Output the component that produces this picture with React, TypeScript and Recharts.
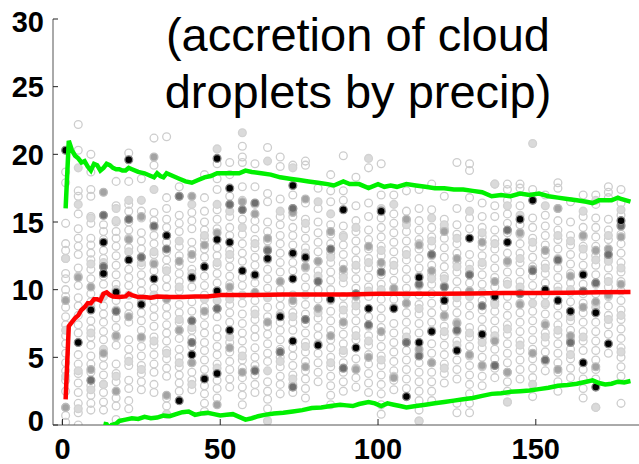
import React from "react";
import { ComposedChart, Scatter, Line, XAxis, YAxis } from "recharts";

// sample columns along x
const COLS = [
  1, 5, 9, 13, 17, 21, 25, 29, 33, 37, 41, 45, 49, 53, 57, 61, 65, 69, 73, 77, 81, 85, 89,
  93, 97, 101, 105, 109, 113, 117, 121, 125, 129, 133, 137, 141, 145, 149, 153, 157, 161,
  165, 169, 173, 177,
];

// open light-gray circles, one string per column
const OPEN = [
  "0.2 0.7 1.3 2.5 3.3 4.0 4.6 5.3 6.0 6.6 7.4 8.0 8.7 9.5 10.0 10.8 11.2 12.3 12.9 13.4 14.9 17.9 18.7",
  "0.0 0.9 1.6 2.4 3.1 3.8 4.5 5.2 6.8 7.4 8.1 8.8 9.4 10.3 11.0 11.6 12.6 13.2 13.8 14.5 15.6 16.9 17.3 20.3 22.2",
  "1.1 1.6 2.2 2.9 3.9 4.5 5.1 5.9 6.5 7.1 7.7 9.1 9.7 10.8 11.5 12.2 12.7 13.3 13.8 14.9 15.4 16.9 17.4 18.7 20.0",
  "1.1 1.7 2.4 3.0 3.7 4.4 5.0 6.3 6.9 7.6 8.2 8.8 10.4 11.0 11.7 12.3 12.9 13.7 14.3 14.8",
  "0.4 1.4 2.0 3.2 3.8 4.5 5.9 6.5 7.2 7.9 8.5 9.2 10.4 11.1 11.8 12.5 13.2 13.8 14.3 15.0 16.2 18.0",
  "1.2 1.8 2.7 3.3 4.4 5.0 5.6 6.3 7.6 8.2 8.8 10.3 10.9 11.5 13.1 13.8 14.4 15.0 15.8 16.3 18.0 20.1",
  "2.6 3.2 3.8 4.4 5.1 5.8 6.4 7.0 7.7 8.3 9.9 10.5 11.1 11.8 12.4 13.0 13.6 14.2 15.3 15.8 18.2",
  "2.4 3.0 3.9 4.5 5.2 5.9 6.5 7.3 8.0 8.6 9.2 10.1 11.4 12.0 12.6 13.4 14.0 14.6 15.1 15.7 19.2 21.2",
  "0.8 1.4 2.0 3.6 4.2 4.9 5.5 6.2 6.8 7.4 8.1 8.7 10.2 10.8 11.6 12.2 12.8 13.5 14.6 15.2 16.0 16.8 21.3",
  "2.5 3.1 3.7 4.3 5.0 5.6 6.4 7.0 7.6 8.3 8.9 9.9 10.6 11.2 11.8 12.5 13.2 14.3 14.9 15.5 16.9 17.6",
  "2.6 3.3 3.9 4.6 5.8 6.4 7.0 7.7 8.4 9.1 10.2 10.8 11.5 12.3 12.9 13.5 14.5 15.1 15.7",
  "1.0 1.6 2.3 2.9 4.1 4.8 5.5 6.1 6.8 7.4 8.1 8.7 9.6 10.3 11.0 12.4 13.0 13.7 14.4 15.0 15.8 16.8 18.5",
  "2.0 2.7 3.3 4.5 5.2 5.8 6.5 7.1 8.0 8.6 10.5 11.2 11.8 12.5 13.1 14.5 15.2 15.9 17.4 18.2 19.3",
  "2.8 3.4 4.1 4.7 5.4 6.1 7.6 8.3 8.9 9.6 10.4 11.0 11.7 12.3 12.9 14.0 14.6 15.4 16.9 18.5 19.4",
  "1.5 2.2 2.8 3.5 4.2 4.8 5.5 6.2 6.8 7.5 8.2 9.0 10.3 10.9 12.1 12.7 13.4 14.1 15.2 16.6 17.6 19.4 19.8 20.6",
  "2.4 3.0 3.7 4.4 5.0 5.7 6.5 7.1 7.8 8.5 9.2 10.5 11.8 12.4 13.1 13.7 14.5 15.1 16.3 17.6 19.3",
  "0.3 1.2 1.9 2.5 3.2 4.7 5.3 6.0 6.7 7.3 8.0 8.7 10.1 10.8 11.5 13.0 13.6 14.3 15.0 16.5 17.1 20.5",
  "2.3 3.0 3.6 4.3 5.0 5.6 6.3 7.0 7.6 8.8 9.4 10.0 11.3 12.0 12.7 13.4 14.0 14.8 15.4 16.7 19.1 19.8",
  "2.4 3.0 3.7 4.4 5.1 5.7 7.0 7.6 8.3 9.0 9.6 11.4 12.0 13.3 14.0 14.6 15.4 16.0 17.0 19.2",
  "2.0 2.7 3.4 4.0 4.7 5.4 6.1 6.8 7.5 8.2 8.9 10.2 10.9 11.6 12.3 13.1 13.8 14.5 15.2 16.4 19.2 19.5",
  "3.2 3.9 4.6 5.3 6.6 7.2 7.9 8.6 9.3 10.0 10.7 11.4 12.1 12.8 13.5 14.2 15.0 16.0 17.5",
  "1.5 2.2 2.9 3.6 4.3 5.0 5.7 6.3 7.0 7.7 8.4 10.0 10.7 11.3 12.0 12.7 13.4 14.1 14.8 16.5 17.3 18.5",
  "2.5 3.2 3.9 4.6 5.3 6.0 6.7 7.4 8.1 8.8 9.5 10.5 11.2 11.9 12.6 13.3 14.0 14.7 16.6 17.3 19.9",
  "2.8 3.5 4.2 4.9 6.3 7.0 7.7 8.4 9.1 10.1 10.8 11.5 12.2 12.9 13.6 14.3 15.1 16.2 18.3",
  "2.4 3.1 3.8 4.5 5.2 5.9 6.6 7.3 8.0 9.5 10.2 10.9 11.6 12.3 13.0 13.7 14.4 15.4 16.4 19.0",
  "0.8 1.5 2.3 3.0 3.7 4.4 5.1 5.8 6.5 7.2 7.9 8.6 9.3 10.4 11.1 11.8 12.5 13.2 13.9 14.6 15.3 17.0 19.3",
  "2.6 3.3 4.0 4.7 5.4 6.1 6.8 7.5 9.3 10.0 10.7 11.4 12.1 12.8 13.5 14.2 14.9 15.6 17.0",
  "2.7 3.4 4.1 4.8 5.5 6.2 6.9 7.6 8.3 9.0 10.1 10.8 11.5 12.2 12.9 13.6 14.3 15.1 15.8 17.3",
  "0.3 1.1 1.8 2.5 3.2 3.9 4.6 5.3 6.8 7.5 8.2 8.9 9.6 10.3 11.6 12.3 13.0 13.7 14.4 15.1 16.0 17.4",
  "1.8 2.5 3.2 3.9 4.6 5.3 6.0 7.6 8.3 9.0 9.7 10.4 11.1 11.8 12.5 13.2 13.9 14.6 15.9 17.8",
  "3.1 3.8 4.5 5.2 5.9 6.6 7.3 8.0 8.7 9.4 10.3 11.0 11.7 12.4 13.1 13.8 14.5 15.2 16.9",
  "0.9 1.6 3.4 4.1 4.8 5.5 6.2 6.9 7.6 8.3 9.0 9.9 10.6 11.3 12.0 12.7 13.4 14.1 14.8 16.0 19.4",
  "0.9 1.6 2.3 3.0 3.7 4.4 5.1 5.8 6.5 7.2 8.1 8.8 10.5 11.2 11.9 12.6 14.5 15.3 16.8 18.8 19.3",
  "2.9 3.6 4.3 5.0 5.7 6.4 7.1 7.8 8.5 9.2 10.4 11.1 11.8 12.5 13.2 13.9 14.6 15.4 16.4",
  "3.5 4.2 4.9 5.6 6.3 7.0 7.7 8.4 9.1 10.2 10.9 11.6 12.3 13.0 13.7 14.4 15.4 16.2 17.8",
  "1.7 2.5 3.2 3.9 4.6 5.3 6.0 6.7 7.4 8.1 8.8 9.5 10.6 11.3 12.0 12.7 14.2 14.9 15.6 16.6 17.4 17.8",
  "3.4 4.1 4.8 5.5 6.2 6.9 7.6 8.3 9.0 9.9 10.6 11.3 12.0 12.7 13.4 14.1 14.8 16.2 17.5 17.8",
  "2.1 3.5 4.2 4.9 5.6 6.3 7.0 7.7 8.4 9.6 10.3 11.0 11.7 12.4 13.1 13.8 14.6 15.3 17.4",
  "4.0 4.7 5.4 6.1 6.8 7.5 8.2 8.9 9.6 10.5 11.2 11.9 12.6 13.3 14.0 14.7 15.5 17.0",
  "2.5 3.2 3.9 4.6 5.3 6.0 6.7 7.4 8.1 8.8 10.2 10.9 11.6 12.3 13.0 13.7 14.4 15.1 16.0 17.5 17.9",
  "3.5 4.2 4.9 5.6 6.3 7.0 7.7 8.4 9.1 9.8 10.5 11.2 11.9 12.6 13.3 14.0 15.0 16.5",
  "2.0 2.7 3.4 4.1 5.5 6.2 6.9 7.6 8.3 9.0 9.7 10.4 11.8 12.5 13.2 13.9 14.6 15.4 17.0",
  "1.3 3.4 4.1 4.8 5.5 6.2 6.9 7.6 8.3 9.0 9.7 10.4 11.1 11.8 12.5 13.2 13.9 14.6 15.3 16.3 17.0",
  "5.3 6.0 6.7 7.4 8.1 8.8 9.5 10.2 10.9 11.6 12.3 13.0 13.7 14.4 15.2 16.8 17.2 17.6",
  "1.6 3.6 4.3 5.0 5.7 6.4 7.1 7.8 8.5 9.2 9.9 10.6 11.3 12.0 12.7 13.4 14.1 14.8 15.5 16.4 17.4",
];

// filled light-gray circles
const LIGHT = [
  "12.3 3.6 7.0", "19.0 16.3 4.0 1.2", "15.3 8.8 2.6 6.8 11.9", "9.5 5.6 3.0 12.0", "16.0 15.1 6.6 3.6 10.0",
  "16.6 9.6 4.7 12.8", "16.6 9.2 4.1 12.0", "17.4 12.8 6.2 9.6", "11.4 5.3 0.8 14.0", "13.6 7.8 4.6 10.2",
  "16.3 11.2 7.2 3.0", "14.0 9.3 3.5 11.7", "20.4 16.3 12.0 4.2 9.2", "15.8 12.6 6.5 9.3", "21.6 14.6 9.6 5.1",
  "13.4 8.2 4.1 11.0", "19.5 12.2 9.4 0.3 4.0", "15.8 10.6 4.7 8.2", "19.0 12.6 8.0 3.4", "14.9 9.6 5.8 12.7",
  "16.5 11.0 6.0 8.3", "15.6 9.2 4.6 12.4", "13.9 8.5 5.5 10.9", "14.6 11.8 6.6 8.8", "19.7 12.0 6.2 9.9",
  "16.0 10.0 4.8 12.9", "16.3 11.8 8.7 3.6", "14.8 9.6 6.5 12.6", "13.4 8.6 0.3 11.0", "15.3 10.8 7.0 13.6",
  "14.8 10.8 6.9 4.2", "13.8 9.4 5.9 11.7", "15.8 11.5 6.8 9.5", "14.2 9.8 6.1 12.0", "17.8 13.4 8.9 6.6",
  "16.2 10.4 7.1 1.7", "15.5 10.2 5.9 12.3", "20.8 13.5 9.0 3.0", "16.2 11.6 6.5 9.0", "14.0 9.9 7.0 12.1",
  "13.6 10.0 5.2 8.0", "15.8 11.2 6.5 13.0", "16.6 12.2 8.7 1.3", "14.0 10.6 7.8 12.1", "15.9 11.6 8.1 5.4",
];

// mid-gray filled
const GRAY = [
  "9.2 1.3", "10.9", "10.2 4.1", "17.2 5.3", "6.6 2.5", "13.7 8.0", "15.4 6.5", "19.8 11.9",
  "9.3 2.2", "12.1 7.0", "16.9 12.6 4.6", "13.3 8.4", "14.2 8.6 1.5", "10.2 5.7", "16.5 3.9",
  "15.6 9.8", "13.8 7.6", "10.6 5.4", "15.7 9.2", "16.7 11.7 4.3", "12.1 8.6", "14.3 6.6",
  "11.5 7.6", "9.5 4.1", "13.2 5.0", "12.0 6.9", "10.1 3.5", "15.2 9.0", "13.3 5.6",
  "11.4 4.6", "14.3 8.1", "12.3 7.5", "9.9 5.2", "13.5 4.4", "10.6 6.2", "12.1 3.9",
  "14.2 8.9", "11.5 5.3", "12.9 7.4", "16.0 4.1", "11.0 6.6", "14.0 8.7", "12.9 9.1 4.3",
  "13.0 9.6", "13.9 10.4",
];

// dark-gray filled
const DARK = [
  "", "", "3.3", "15.5 11.7", "8.4", "15.2", "12.4", "14.7", "13.0", "16.9", "7.7 6.1", "",
  "8.6", "16.3", "15.9", "16.4 4.0", "12.9", "5.4", "16.0 2.8", "7.8", "10.6", "13.0", "4.2",
  "9.7", "7.4", "11.3", "", "6.1", "10.4 5.1", "12.6", "10.2", "7.0", "11.1", "8.8", "4.4",
  "14.4", "9.7", "11.4", "4.8", "12.2", "6.1", "9.9", "10.5", "12.6", "14.7",
];

// black dots
const BLACK = [
  "20.3", "6.1", "8.5", "13.5 11.2", "9.8", "19.6 12.2", "8.9", "10.8", "14.0", "1.8",
  "10.9 5.2", "11.7 3.4", "19.7 13.7 9.9 3.8", "17.5 13.5 7.0", "11.4", "11.1", "12.3", "8.0",
  "17.7 12.7 10.8 6.2", "12.4", "5.9", "9.3", "15.9", "5.7", "8.6", "15.8", "8.6", "2.1",
  "10.9 6.1", "6.9", "9.2", "5.5", "13.8", "6.7", "9.5", "13.5", "15.2", "16.6", "10.0",
  "9.2", "8.4", "11.1 4.6", "8.3 2.8", "6.0", "15.1",
];

// running mean (red) and spread bounds (green)
const MEAN: [number, number][] = [
  [1, 1.9], [2, 7.3], [3, 7.6], [4, 7.9], [5, 8.1], [6, 8.5], [7, 8.7], [8, 9.0], [9, 9.0],
  [10, 9.3], [11, 9.3], [12, 9.2], [13, 9.7], [14, 9.8], [15, 9.6], [16, 9.5], [18, 9.45],
  [20, 9.5], [21, 9.7], [22, 9.6], [24, 9.45], [26, 9.45], [28, 9.4], [30, 9.5], [34, 9.45],
  [38, 9.45], [42, 9.5], [46, 9.5], [50, 9.6], [55, 9.6], [60, 9.6], [70, 9.65], [80, 9.65],
  [90, 9.65], [100, 9.7], [110, 9.7], [120, 9.7], [130, 9.72], [140, 9.75], [150, 9.75],
  [160, 9.78], [170, 9.8], [180, 9.82],
];

const UPPER: [number, number][] = [
  [1, 16.0], [2, 21.0], [3, 20.3], [4, 19.9], [5, 19.7], [6, 19.4], [7, 19.5], [8, 19.1],
  [9, 18.8], [10, 19.3], [11, 19.2], [12, 18.8], [13, 19.0], [14, 19.3], [15, 19.2], [16, 19.0],
  [17, 18.9], [18, 18.9], [19, 18.8], [20, 18.8], [21, 19.0], [22, 18.9], [24, 18.7], [26, 18.6],
  [28, 18.4], [29, 18.3], [30, 18.6], [31, 18.4], [32, 18.3], [33, 18.6], [35, 18.4], [37, 18.2],
  [39, 18.0], [41, 17.9], [43, 18.1], [45, 18.3], [47, 18.4], [49, 18.6], [51, 18.6], [54, 18.6],
  [56, 18.6], [58, 18.8], [60, 18.7], [63, 18.6], [66, 18.5], [69, 18.3], [72, 18.2], [75, 18.1],
  [78, 18.0], [81, 17.9], [84, 17.8], [86, 17.7], [89, 18.0], [91, 17.8], [94, 17.8], [97, 17.5],
  [100, 17.8], [102, 17.6], [104, 17.7], [106, 17.6], [109, 17.8], [112, 17.7], [115, 17.6],
  [118, 17.5], [121, 17.5], [124, 17.4], [127, 17.4], [130, 17.3], [133, 17.2], [136, 16.9],
  [139, 17.0], [142, 16.9], [145, 17.1], [148, 17.0], [151, 17.1], [154, 16.9], [157, 16.8],
  [160, 16.7], [163, 16.6], [166, 16.5], [168, 16.4], [170, 16.6], [172, 16.6], [174, 16.6],
  [176, 16.8], [177, 16.7], [180, 16.5],
];

const LOWER: [number, number][] = [
  [13, 0.1], [14, 0.05], [14.8, -0.3], [15.6, 0.0], [17, 0.1], [18, 0.3], [20, 0.4], [22, 0.5],
  [24, 0.45], [26, 0.6], [28, 0.5], [30, 0.55], [32, 0.7], [34, 0.65], [36, 0.8], [38, 0.95],
  [40, 1.0], [42, 0.75], [44, 0.85], [46, 0.9], [48, 0.8], [50, 0.7], [52, 0.75], [54, 0.8],
  [56, 0.6], [58, 0.4], [60, 0.5], [62, 0.65], [64, 0.75], [67, 0.85], [70, 0.9], [73, 1.0],
  [76, 1.1], [79, 1.25], [82, 1.3], [85, 1.4], [88, 1.5], [90, 1.45], [92, 1.4], [94, 1.55],
  [97, 1.7], [99, 1.6], [101, 1.4], [103, 1.6], [105, 1.5], [107, 1.4], [109, 1.3], [112, 1.4],
  [115, 1.5], [118, 1.6], [121, 1.7], [124, 1.8], [127, 1.9], [130, 2.0], [133, 2.15],
  [136, 2.3], [139, 2.35], [142, 2.45], [145, 2.5], [148, 2.55], [151, 2.65], [154, 2.75],
  [157, 2.9], [160, 2.95], [163, 3.05], [166, 3.2], [168, 3.3], [170, 3.1], [172, 3.0],
  [174, 3.05], [176, 3.2], [178, 3.15], [180, 3.25],
];

const X_TICKS = [0, 50, 100, 150];
const Y_TICKS = [0, 5, 10, 15, 20, 25, 30];
const TITLE = ["(accretion of cloud", "droplets by precip)"];

const FONT = "'Liberation Sans', Arial, Helvetica, sans-serif";

const toPoints = (cols: string[]) =>
  cols.flatMap((s, i) =>
    s.trim() ? s.trim().split(/\s+/).map((v) => ({ x: COLS[i], y: Number(v) })) : []
  );
const toLine = (pts: [number, number][]) => pts.map(([x, y]) => ({ x, y }));

const dot = (fill: string, stroke: string) => (p: any) =>
  <circle cx={p.cx} cy={p.cy} r={3.9} fill={fill} stroke={stroke} strokeWidth={1.3} />;

const XTick = (p: any) => (
  <g>
    <line x1={p.x} x2={p.x} y1={p.y} y2={p.y - 6} stroke="#222" />
    <text x={p.x} y={p.y + 34} textAnchor="middle" fontFamily={FONT} fontWeight="bold" fontSize={29} fill="#000">
      {p.payload.value}
    </text>
  </g>
);

const YTick = (p: any) => {
  const v = p.payload.value;
  const dy = v === 0 ? 6 : v === 30 ? 13 : 10.5;
  return (
    <g>
      <line x1={p.x} x2={p.x + 5} y1={p.y} y2={p.y} stroke="#222" />
      <text x={p.x - 9} y={p.y + dy} textAnchor="end" fontFamily={FONT} fontWeight="bold" fontSize={29} fill="#000">
        {v}
      </text>
    </g>
  );
};

export default function App() {
  return (
    <div style={{ position: "absolute", left: 0, top: 0, width: 639, height: 464, background: "#fff" }}>
      <ComposedChart width={639} height={464} margin={{ top: 19, right: 0, bottom: 0, left: 0 }}>
        <XAxis
          type="number"
          dataKey="x"
          domain={[-3, 182.7]}
          ticks={X_TICKS}
          allowDataOverflow
          height={39}
          tickSize={0}
          tickMargin={0}
          tickLine={false}
          axisLine={{ stroke: "#555" }}
          tick={<XTick />}
        />
        <YAxis
          type="number"
          dataKey="y"
          domain={[0, 30]}
          ticks={Y_TICKS}
          allowDataOverflow
          width={53}
          tickSize={0}
          tickMargin={0}
          tickLine={false}
          axisLine={{ stroke: "#555" }}
          tick={<YTick />}
        />
        <Scatter data={toPoints(OPEN)} shape={dot("none", "#cdcdcd")} isAnimationActive={false} zIndex={100} />
        <Scatter data={toPoints(LIGHT)} shape={dot("#dadada", "#d2d2d2")} isAnimationActive={false} zIndex={110} />
        <Scatter data={toPoints(GRAY)} shape={dot("#a3a3a3", "#bdbdbd")} isAnimationActive={false} zIndex={120} />
        <Scatter data={toPoints(DARK)} shape={dot("#6e6e6e", "#9a9a9a")} isAnimationActive={false} zIndex={130} />
        <Scatter data={toPoints(BLACK)} shape={dot("#000", "#8a8a8a")} isAnimationActive={false} zIndex={140} />
        <Line data={toLine(LOWER)} dataKey="y" type="linear" stroke="#00f000" strokeWidth={4.5} dot={false} isAnimationActive={false} zIndex={900} />
        <Line data={toLine(UPPER)} dataKey="y" type="linear" stroke="#00f000" strokeWidth={4.5} dot={false} isAnimationActive={false} zIndex={900} />
        <Line data={toLine(MEAN)} dataKey="y" type="linear" stroke="#ff0000" strokeWidth={4.5} dot={false} isAnimationActive={false} zIndex={900} />
      </ComposedChart>
      <svg width={639} height={464} style={{ position: "absolute", left: 0, top: 0, pointerEvents: "none" }}>
        {TITLE.map((t, i) => (
          <text key={t} x={358} y={51 + i * 57} textAnchor="middle" fontFamily={FONT} fontSize={47} fill="#000">
            {t}
          </text>
        ))}
      </svg>
    </div>
  );
}
